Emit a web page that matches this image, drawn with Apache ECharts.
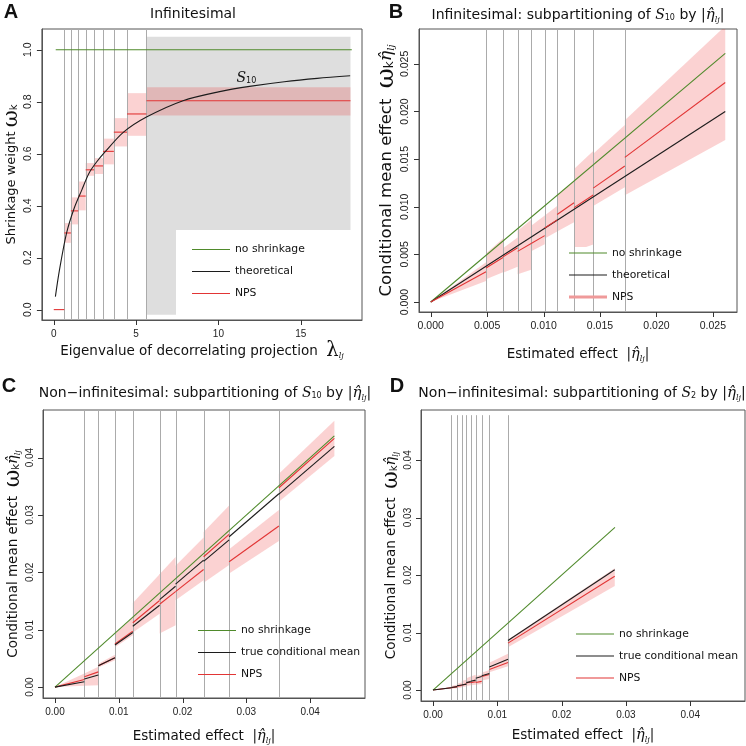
<!DOCTYPE html>
<html><head><meta charset="utf-8">
<script src="https://cdn.jsdelivr.net/npm/echarts@6/dist/echarts.min.js"></script>
<style>html,body{margin:0;padding:0;background:#fff}#c{width:746px;height:746px}</style>
</head><body><div id="c"></div>
<script>
// ---------------- DATA ----------------
// Panel A: infinitesimal, NPS weights per eigenvalue bin
const aBinEdges = [0, 0.64, 1.04, 1.49, 1.94, 2.45, 2.99, 3.65, 4.45, 5.63, 18.02];
const aNpsWeight = [0.0, 0.295, 0.38, 0.437, 0.538, 0.553, 0.609, 0.683, 0.753, 0.804];
const aNpsLower  = [0.0, 0.257, 0.328, 0.382, 0.515, 0.522, 0.559, 0.628, 0.669, 0.747];
const aNpsUpper  = [0.0, 0.333, 0.432, 0.493, 0.564, 0.583, 0.658, 0.737, 0.833, 0.856];
const aTheoryLambda = [0.1, 0.34, 0.78, 1.24, 1.7, 2.14, 2.6, 3.14, 4.24, 5.63, 7.85, 10, 12, 14, 16, 18];
const aTheoryWeight = [0.05, 0.15, 0.295, 0.39, 0.46, 0.525, 0.568, 0.609, 0.683, 0.741, 0.804, 0.838, 0.86, 0.877, 0.89, 0.9];
const aNoShrinkX = [0.12, 18.1];
const aNoShrinkY = [1, 1];
const aS10Region = [5.63, 18.02, -0.02, 1.05]; // x0, x1, y0, y1
const aXTicks = [0, 5, 10, 15];
const aYTicks = [0, 0.2, 0.4, 0.6, 0.8, 1.0];

// Panel B: infinitesimal, subpartitioning of S10 by |eta|
const bBinEdges = [0, 0.0049, 0.0064, 0.0077, 0.0089, 0.0101, 0.0112, 0.0127, 0.0144, 0.0172, 0.0261];
const bNpsWeight = [0.65, 0.73, 0.74, 0.69, 0.69, 0.77, 0.82, 0.78, 0.83, 0.883];
const bNpsLower  = [0.45, 0.49, 0.48, 0.38, 0.60, 0.66, 0.66, 0.42, 0.70, 0.652];
const bNpsUpper  = [0.85, 1.04, 0.88, 0.97, 0.90, 0.90, 1.00, 1.10, 1.08, 1.11];
const bTheoryX = [0, 0.0261];
const bTheoryY = [0, 0.0200];
const bNoShrinkX = [0, 0.0261];
const bNoShrinkY = [0, 0.0261];
const bTicks = [0, 0.005, 0.010, 0.015, 0.020, 0.025];

// Panel C: non-infinitesimal, subpartitioning of S10
const cBinEdges = [0, 0.0046, 0.0068, 0.0094, 0.0122, 0.0164, 0.0189, 0.0233, 0.0273, 0.0351, 0.0438];
const cTrueWeight = [0.20, 0.31, 0.545, 0.78, 0.87, 0.93, 0.95, 0.94, 0.96, 0.958];
const cNpsWeight  = [0.29, 0.39, 0.545, 0.80, 0.92, 0.88, 0.88, 0.975, 0.80, 0.99];
const cNpsLower   = [0.05, 0.05, 0.50, 0.74, 0.78, 0.57, 0.80, 0.78, 0.725, 0.92];
const cNpsUpper   = [0.52, 0.52, 0.60, 0.99, 1.20, 1.20, 1.12, 1.16, 0.88, 1.06];
const cNoShrinkX = [0, 0.0438];
const cNoShrinkY = [0, 0.0438];
const cdTicks = [0, 0.01, 0.02, 0.03, 0.04];

// Panel D: non-infinitesimal, subpartitioning of S2
const dBinEdges = [0, 0.00285, 0.00373, 0.00446, 0.00518, 0.00586, 0.00664, 0.00757, 0.00876, 0.01166, 0.02826];
const dTrueWeight = [0.14, 0.16, 0.20, 0.20, 0.25, 0.26, 0.31, 0.33, 0.46, 0.74];
const dNpsWeight  = [0.14, 0.15, 0.18, 0.20, 0.24, 0.22, 0.20, 0.31, 0.41, 0.70];
const dNpsLower   = [0.08, 0.08, 0.10, 0.12, 0.14, 0.14, 0.14, 0.22, 0.355, 0.64];
const dNpsUpper   = [0.20, 0.25, 0.30, 0.35, 0.40, 0.40, 0.36, 0.40, 0.54, 0.75];
const dNoShrinkX = [0, 0.0283];
const dNoShrinkY = [0, 0.0283];

// ---------------- STYLE ----------------
const GREEN = '#4f8a2b', BLACK = '#1c1c1c', RED = '#e23535', PINK = 'rgba(235,30,30,0.2)',
      VLINE = '#ababab', GRAY = '#dedede', TXT = '#111';
const SANS = 'DejaVu Sans', TICKF = 'Liberation Sans';

const mathRich = (base) => ({
  eta: {fontFamily: 'DejaVu Serif', fontStyle: 'italic', fontSize: base + 1, color: TXT},
  sub: {fontFamily: 'DejaVu Serif', fontStyle: 'italic', fontSize: Math.round(base * 0.6), padding: [10, 0, 0, 0], color: TXT},
  S: {fontFamily: 'DejaVu Serif', fontStyle: 'italic', fontSize: base, color: TXT},
  ss: {fontFamily: SANS, fontSize: Math.round(base * 0.6), padding: [6, 0, 0, 0], color: TXT},
  w: {fontFamily: 'DejaVu Serif', fontSize: base + 8, color: TXT},
  k: {fontFamily: SANS, fontSize: Math.round(base * 0.75), padding: [6, 0, 0, 0], color: TXT},
  lam: {fontFamily: 'DejaVu Serif', fontSize: base + 6, color: TXT},
  t: {fontFamily: SANS, fontSize: base, color: TXT}
});

const grids = [
  {left: 39, top: 29, width: 323, height: 291},
  {left: 419, top: 29, width: 318, height: 283},
  {left: 43, top: 410, width: 322, height: 288},
  {left: 421, top: 410, width: 324, height: 291}
].map(g => Object.assign(g, {show: true, borderColor: '#555', borderWidth: 1, backgroundColor: 'transparent', containLabel: false}));

function axis(gi, min, max, ticks, fmt, name, gap, size, rotate, lblSize) {
  return {
    type: 'value', gridIndex: gi, min, max, z: 10,
    axisLine: {show: true, onZero: false, lineStyle: {color: '#555', width: 1}}, splitLine: {show: false},
    axisTick: {show: false},
    axisLabel: {customValues: ticks, formatter: fmt, margin: rotate ? 8 : 9, fontSize: lblSize || 10,
                fontFamily: TICKF, color: '#222', rotate: rotate ? 90 : 0},
    name, nameLocation: 'middle', nameGap: gap,
    nameTextStyle: {fontFamily: SANS, fontSize: size, color: TXT, rich: mathRich(size)}
  };
}
const f1 = v => v.toFixed(1), f2 = v => v.toFixed(2), f3 = v => v.toFixed(3), f0 = v => String(v);
const etaName = 'Estimated effect  |{eta|η\u0302}{sub|lj}|';
const cmName = 'Conditional mean effect  {w|ω}{k|k}{eta|η\u0302}{sub|lj}';

const xRange = [[-0.72, 18.72], [-0.00104, 0.02714], [-0.00188, 0.0486], [-0.00187, 0.04852]];
const yRange = [[-0.04, 1.08], [-0.00105, 0.02866], [-0.0019, 0.0483], [-0.0019, 0.0487]];

const xAxes = [
  axis(0, xRange[0][0], xRange[0][1], aXTicks, f0, 'Eigenvalue of decorrelating projection  {lam|λ}{sub|lj}', 21, 13.5, false, 10),
  axis(1, xRange[1][0], xRange[1][1], bTicks, f3, etaName, 33, 13.5, false, 10.5),
  axis(2, xRange[2][0], xRange[2][1], cdTicks, f2, etaName, 29, 13.5, false, 10),
  axis(3, xRange[3][0], xRange[3][1], cdTicks, f2, etaName, 25, 13.5, false, 10)
];
const yAxes = [
  axis(0, yRange[0][0], yRange[0][1], aYTicks, f1, 'Shrinkage weight {w|ω}{k|k}', 16, 13, true, 10.5),
  axis(1, yRange[1][0], yRange[1][1], bTicks, f3, cmName, 20, 16.5, true, 10.5),
  axis(2, yRange[2][0], yRange[2][1], cdTicks, f2, cmName, 18, 13.5, true, 10),
  axis(3, yRange[3][0], yRange[3][1], cdTicks, f2, cmName, 18, 13.5, true, 10)
];
const tickSets = [[aXTicks, aYTicks], [bTicks, bTicks], [cdTicks, cdTicks], [cdTicks, cdTicks]];

// ---------------- SERIES BUILDERS ----------------
function vlines(gi, xs, y0, y1) {
  return {type: 'custom', name: '_v' + gi, xAxisIndex: gi, yAxisIndex: gi, z: 3, silent: true, clip: true,
    data: xs.map(x => [x]), encode: {x: 0},
    renderItem: (p, api) => {
      const x = api.value(0), a = api.coord([x, y0]), b = api.coord([x, y1]);
      const px = Math.round(a[0]) + 0.5;
      return {type: 'line', shape: {x1: px, y1: a[1], x2: px, y2: b[1]}, style: {stroke: VLINE, lineWidth: 1}};
    }};
}
function bands(gi, edges, lo, hi, flat) {
  return {type: 'custom', name: '_b' + gi, xAxisIndex: gi, yAxisIndex: gi, z: 2, silent: true, clip: true,
    data: lo.map((l, i) => [edges[i], edges[i + 1], l, hi[i]]), encode: {x: [0, 1], y: [2, 3]},
    renderItem: (p, api) => {
      const x0 = api.value(0), x1 = api.value(1), l = api.value(2), h = api.value(3);
      const pts = flat ? [[x0, l], [x1, l], [x1, h], [x0, h]]
                       : [[x0, l * x0], [x1, l * x1], [x1, h * x1], [x0, h * x0]];
      return {type: 'polygon', shape: {points: pts.map(q => api.coord(q))}, style: {fill: PINK}};
    }};
}
function segs(gi, name, edges, w, color, flat, z) {
  return {type: 'custom', name, xAxisIndex: gi, yAxisIndex: gi, z: z, silent: true, clip: true,
    itemStyle: {color},
    data: w.map((v, i) => [edges[i], edges[i + 1], v]), encode: {x: [0, 1], y: 2},
    renderItem: (p, api) => {
      const x0 = api.value(0), x1 = api.value(1), v = api.value(2);
      const a = api.coord([x0, flat ? v : v * x0]), b = api.coord([x1, flat ? v : v * x1]);
      return {type: 'line', shape: {x1: a[0], y1: a[1], x2: b[0], y2: b[1]}, style: {stroke: color, lineWidth: 1.1}};
    }};
}
function line(gi, name, xs, ys, color, smooth, z) {
  return {type: 'line', name, xAxisIndex: gi, yAxisIndex: gi, z: z, silent: true, smooth: smooth ? 0.3 : false,
    showSymbol: false, symbol: 'none', itemStyle: {color}, lineStyle: {color, width: 1.1},
    data: xs.map((x, i) => [x, ys[i]])};
}
function region(gi, r) {
  return {type: 'custom', name: '_g' + gi, xAxisIndex: gi, yAxisIndex: gi, z: 1, silent: true, clip: true,
    data: [r], encode: {x: [0, 1], y: [2, 3]},
    renderItem: (p, api) => {
      const a = api.coord([api.value(0), api.value(3)]), b = api.coord([api.value(1), api.value(2)]);
      return {type: 'rect', shape: {x: a[0], y: a[1], width: b[0] - a[0], height: b[1] - a[1]}, style: {fill: GRAY}};
    }};
}

const theoA = line(0, 'theoretical', aTheoryLambda, aTheoryWeight, BLACK, true, 6);
theoA.markPoint = {symbol: 'circle', symbolSize: 0, silent: true,
  data: [{coord: [11.7, 0.89], value: 0}],
  label: {show: true, position: 'inside', formatter: '{S|S}{ss|10}', rich: mathRich(14)}};

const series = [
  // A
  region(0, aS10Region),
  vlines(0, aBinEdges.slice(1, 10), yRange[0][0], yRange[0][1]),
  bands(0, aBinEdges, aNpsLower, aNpsUpper, true),
  line(0, 'no shrinkage', aNoShrinkX, aNoShrinkY, GREEN, false, 5),
  segs(0, 'NPS', aBinEdges, aNpsWeight, RED, true, 5),
  theoA,
  // B
  vlines(1, bBinEdges.slice(1, 10), yRange[1][0], yRange[1][1]),
  bands(1, bBinEdges, bNpsLower, bNpsUpper, false),
  line(1, 'no shrinkage', bNoShrinkX, bNoShrinkY, GREEN, false, 5),
  line(1, 'theoretical', bTheoryX, bTheoryY, BLACK, false, 5),
  segs(1, 'NPS', bBinEdges, bNpsWeight, RED, false, 6),
  // C
  vlines(2, cBinEdges.slice(1, 10), yRange[2][0], yRange[2][1]),
  bands(2, cBinEdges, cNpsLower, cNpsUpper, false),
  segs(2, 'NPS', cBinEdges, cNpsWeight, RED, false, 5),
  segs(2, 'true conditional mean', cBinEdges, cTrueWeight, BLACK, false, 6),
  line(2, 'no shrinkage', cNoShrinkX, cNoShrinkY, GREEN, false, 5),
  // D
  vlines(3, dBinEdges.slice(1, 10), yRange[3][0], 0.0478),
  bands(3, dBinEdges, dNpsLower, dNpsUpper, false),
  segs(3, 'NPS', dBinEdges, dNpsWeight, RED, false, 5),
  segs(3, 'true conditional mean', dBinEdges, dTrueWeight, BLACK, false, 6),
  line(3, 'no shrinkage', dNoShrinkX, dNoShrinkY, GREEN, false, 5)
];

const LINE1 = 'path://M0,0H40V1H0Z', LINE3 = 'path://M0,0H40V3H0Z';
function legend(left, top, names, colors, icons) {
  return {orient: 'vertical', left, top, padding: 0, itemGap: 11, itemWidth: 38, itemHeight: 4,
    selectedMode: false, symbolKeepAspect: true,
    textStyle: {fontFamily: SANS, fontSize: 10.8, color: TXT},
    data: names.map((n, i) => ({name: n, icon: icons[i], itemStyle: {color: colors[i], borderWidth: 0}, lineStyle: {width: 0}}))};
}
const legends = [
  legend(192, 244, ['no shrinkage', 'theoretical', 'NPS'], [GREEN, BLACK, RED], [LINE1, LINE1, LINE1]),
  legend(569, 247.5, ['no shrinkage', 'theoretical', 'NPS'], [GREEN, BLACK, '#ef9a9a'], [LINE1, LINE1, LINE3]),
  legend(198, 625, ['no shrinkage', 'true conditional mean', 'NPS'], [GREEN, BLACK, RED], [LINE1, LINE1, LINE1]),
  legend(576, 628.5, ['no shrinkage', 'true conditional mean', 'NPS'], [GREEN, BLACK, RED], [LINE1, LINE1, LINE1])
];

function ttl(text, x, y, size, bold) {
  return {text, left: x, top: y, padding: 0, textAlign: 'center', textVerticalAlign: 'middle',
    textStyle: {fontFamily: bold ? TICKF : SANS, fontSize: size, fontWeight: bold ? 'bold' : 'normal', color: TXT, rich: mathRich(size)}};
}
const titles = [
  ttl('A', 11, 12, 20, true), ttl('B', 396, 12, 20, true), ttl('C', 9, 386, 20, true), ttl('D', 397, 386, 20, true),
  ttl('Infinitesimal', 193, 14, 14, false),
  ttl('Infinitesimal: subpartitioning of {S|S}{ss|10} by |{eta|η\u0302}{sub|lj}|', 578, 15, 14, false),
  ttl('Non\u2212infinitesimal: subpartitioning of {S|S}{ss|10} by |{eta|η\u0302}{sub|lj}|', 205, 393, 14, false),
  ttl('Non\u2212infinitesimal: subpartitioning of {S|S}{ss|2} by |{eta|η\u0302}{sub|lj}|', 582, 393, 14, false)
];

// white legend backgrounds, kept strictly inside each plot border
const boxes = [[176, 230, 175, 85], [562, 247, 174, 63], [192, 615, 172, 82], [570, 615, 174, 85]];
const boxEls = boxes.map((b, i) => ({type: 'rect', id: 'box' + i, z: 3, silent: true,
  shape: {x: b[0], y: b[1], width: b[2], height: b[3]}, style: {fill: '#ffffff'}}));

const chart = echarts.init(document.getElementById('c'), null, {renderer: 'canvas'});
chart.setOption({
  animation: false, backgroundColor: '#ffffff',
  title: titles, grid: grids, xAxis: xAxes, yAxis: yAxes, legend: legends,
  graphic: {elements: boxEls}, series
});

// outward tick marks at the tick values, placed through each grid's axis scales
const tickEls = [];
tickSets.forEach((ts, gi) => {
  const finder = {gridIndex: gi};
  ts[0].forEach((v, j) => {
    const p = chart.convertToPixel(finder, [v, yRange[gi][0]]);
    if (!p || !isFinite(p[0]) || !isFinite(p[1])) return;
    const x = Math.round(p[0]) + 0.5;
    tickEls.push({type: 'line', id: 'tx' + gi + '_' + j, z: 20, silent: true,
      shape: {x1: x, y1: p[1], x2: x, y2: p[1] + 5}, style: {stroke: '#333', lineWidth: 1}});
  });
  ts[1].forEach((v, j) => {
    const p = chart.convertToPixel(finder, [xRange[gi][0], v]);
    if (!p || !isFinite(p[0]) || !isFinite(p[1])) return;
    const y = Math.round(p[1]) + 0.5;
    tickEls.push({type: 'line', id: 'ty' + gi + '_' + j, z: 20, silent: true,
      shape: {x1: p[0] - 5, y1: y, x2: p[0], y2: y}, style: {stroke: '#333', lineWidth: 1}});
  });
});
chart.setOption({graphic: {elements: boxEls.concat(tickEls)}});
</script></body></html>
